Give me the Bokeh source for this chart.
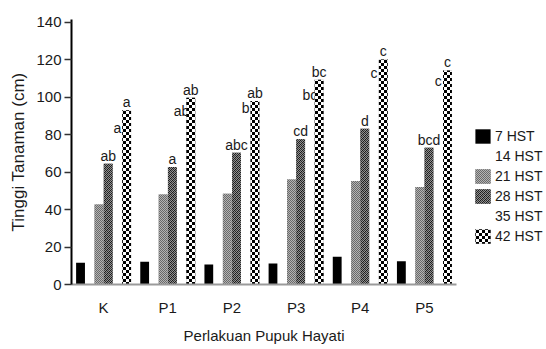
import zlib, struct, base64
from bokeh.plotting import figure
from bokeh.models import (FactorRange, Range1d, FixedTicker, Legend, LegendItem,
                          ColumnDataSource, ImageURLTexture)
from bokeh.transform import dodge
from bokeh.core.properties import value
from bokeh.embed import file_html
from bokeh.resources import INLINE

categories = ["K", "P1", "P2", "P3", "P4", "P5"]
series = ["7 HST", "14 HST", "21 HST", "28 HST", "35 HST", "42 HST"]
hst7 = [11.6, 12.1, 10.7, 11.2, 14.8, 12.4]
hst14 = [27.0, 30.0, 30.0, 33.0, 34.0, 32.0]   # drawn white in the original (invisible)
hst21 = [42.7, 48.0, 48.5, 56.0, 55.3, 52.1]
hst28 = [64.5, 62.8, 70.4, 77.5, 83.2, 73.0]
hst35 = [79.3, 88.2, 90.0, 97.0, 108.6, 104.2]  # drawn white in the original (invisible)
hst42 = [93.0, 99.7, 98.0, 109.3, 120.2, 114.3]
lab28 = ["ab", "a", "abc", "cd", "d", "bcd"]
lab35 = ["a", "ab", "b", "bc", "c", "c"]
lab42 = ["a", "ab", "ab", "bc", "c", "c"]
y_ticks = [0, 20, 40, 60, 80, 100, 120, 140]

FONT = "Liberation Sans"


def png_url(pixels):
    h = len(pixels)
    w = len(pixels[0])
    raw = b"".join(b"\x00" + bytes(row) for row in pixels)

    def chunk(tag, data):
        return (struct.pack(">I", len(data)) + tag + data +
                struct.pack(">I", zlib.crc32(tag + data) & 0xffffffff))
    png = (b"\x89PNG\r\n\x1a\n" +
           chunk(b"IHDR", struct.pack(">IIBBBBB", w, h, 8, 0, 0, 0, 0)) +
           chunk(b"IDAT", zlib.compress(raw)) + chunk(b"IEND", b""))
    return "data:image/png;base64," + base64.b64encode(png).decode()


def checker(cell, dark, light):
    n = cell * 2
    return [[dark if ((x // cell) + (y // cell)) % 2 == 0 else light for x in range(n)]
            for y in range(n)]


tex_big = ImageURLTexture(url=png_url(checker(3, 0, 255)), repetition="repeat")
tex_light = ImageURLTexture(url=png_url(checker(1, 105, 180)), repetition="repeat")
tex_dark = ImageURLTexture(url=png_url([[25, 130, 60, 150],
                                        [140, 40, 150, 25],
                                        [60, 150, 25, 130],
                                        [150, 25, 140, 40]]), repetition="repeat")

src = ColumnDataSource(dict(cat=categories, h7=hst7, h14=hst14, h21=hst21, h28=hst28,
                            h35=hst35, h42=hst42, l28=lab28, l35=lab35, l42=lab42))

p = figure(x_range=FactorRange(*categories, range_padding=0, factor_padding=0),
           y_range=Range1d(0, 141.5),
           frame_width=385, frame_height=265,
           min_border_left=71, min_border_right=74, min_border_top=19, min_border_bottom=50,
           output_backend="svg", toolbar_location=None)
p.xgrid.visible = False
p.ygrid.visible = False
p.outline_line_color = None
p.background_fill_color = "white"
p.border_fill_color = "white"

slot = 0.1437
offs = [(i - 2.5) * slot for i in range(6)]
bw = 0.138

r7 = p.vbar(x=dodge("cat", offs[0], range=p.x_range), top="h7", bottom=0, width=bw,
            source=src, fill_color="black", line_color=None)
r14 = p.vbar(x=dodge("cat", offs[1], range=p.x_range), top="h14", bottom=0, width=bw,
             source=src, fill_color="white", line_color=None)
r21 = p.vbar(x=dodge("cat", offs[2], range=p.x_range), top="h21", bottom=0, width=bw,
             source=src, fill_color="#909090", line_color=None,
             hatch_pattern=dict(value="light"), hatch_extra={"light": tex_light}, hatch_scale=2)
r28 = p.vbar(x=dodge("cat", offs[3], range=p.x_range), top="h28", bottom=0, width=bw,
             source=src, fill_color="#555555", line_color=None,
             hatch_pattern=dict(value="dark"), hatch_extra={"dark": tex_dark}, hatch_scale=4)
r35 = p.vbar(x=dodge("cat", offs[4], range=p.x_range), top="h35", bottom=0, width=bw,
             source=src, fill_color="white", line_color=None)

txt = dict(text_align="center", text_baseline="bottom", text_font_size="14px",
           text_font=value(FONT), text_color="#1a1a1a", source=src)
p.text(x=dodge("cat", offs[3], range=p.x_range), y="h28", text="l28", **txt)
p.text(x=dodge("cat", offs[4], range=p.x_range), y="h35", text="l35", **txt)

r42 = p.vbar(x=dodge("cat", offs[5], range=p.x_range), top="h42", bottom=0, width=bw,
             source=src, fill_color="#808080", line_color=None,
             hatch_pattern=dict(value="checker"), hatch_extra={"checker": tex_big}, hatch_scale=6)
p.text(x=dodge("cat", offs[5], range=p.x_range), y="h42", text="l42", **txt)

# axes
p.yaxis.ticker = FixedTicker(ticks=y_ticks)
p.yaxis.axis_line_width = 2
p.yaxis.axis_line_color = "black"
p.yaxis.major_tick_out = 7
p.yaxis.major_tick_in = 0
p.yaxis.major_tick_line_width = 1.5
p.yaxis.major_tick_line_color = "#333333"
p.yaxis.minor_tick_line_color = None
p.yaxis.major_label_standoff = 3
p.yaxis.major_label_text_font_size = "15px"
p.yaxis.major_label_text_font = FONT
p.yaxis.major_label_text_color = "#1a1a1a"
p.yaxis.axis_label = "Tinggi Tanaman (cm)"
p.yaxis.axis_label_text_font_size = "17px"
p.yaxis.axis_label_text_font = FONT
p.yaxis.axis_label_text_font_style = "normal"
p.yaxis.axis_label_text_color = "#1a1a1a"
p.yaxis.axis_label_standoff = 5

p.xaxis.axis_line_color = "#9a9a9a"
p.xaxis.axis_line_width = 2
p.xaxis.major_tick_line_color = None
p.xaxis.minor_tick_line_color = None
p.xaxis.major_tick_out = 0
p.xaxis.major_label_standoff = 14
p.xaxis.major_label_text_font_size = "15px"
p.xaxis.major_label_text_font = FONT
p.xaxis.major_label_text_color = "#1a1a1a"
p.xaxis.axis_label = "Perlakuan Pupuk Hayati"
p.xaxis.axis_label_text_font_size = "15px"
p.xaxis.axis_label_text_font = FONT
p.xaxis.axis_label_text_font_style = "normal"
p.xaxis.axis_label_text_color = "#1a1a1a"
p.xaxis.axis_label_standoff = 8

renderers = [r7, r14, r21, r28, r35, r42]
legend = Legend(items=[LegendItem(label=s, renderers=[r]) for s, r in zip(series, renderers)],
                location=(17, 39), orientation="vertical", padding=0, spacing=2, margin=0,
                glyph_width=19, glyph_height=18, label_height=15, label_standoff=3,
                label_text_font_size="14px", label_text_font=FONT, label_text_color="#1a1a1a",
                border_line_color=None, background_fill_alpha=0)
p.add_layout(legend, "right")

open("out.html", "w").write(file_html(p, INLINE))
